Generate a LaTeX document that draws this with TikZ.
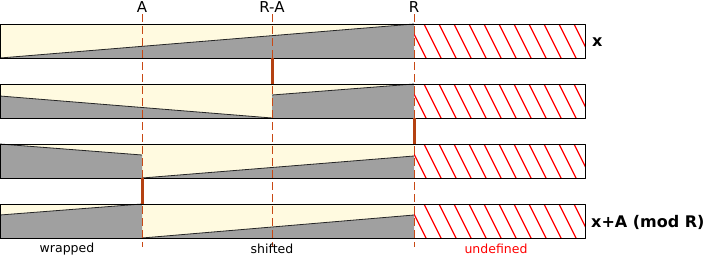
\documentclass[tikz,border=0pt]{standalone}
\usepackage{fontspec}
\setmainfont{DejaVu Sans}
\usetikzlibrary{calc}

\definecolor{buffer}{RGB}{255,250,224}
\definecolor{data}{RGB}{160,160,160}
\definecolor{guide}{RGB}{200,72,20}

\tikzset{
  bar/.style={draw=black, line width=1pt, minimum width=585pt, minimum height=34pt,
    inner sep=0pt, outer sep=0pt, anchor=north west},
  hatch/.style={red, line width=1.3pt},
  edge/.style={black!85, line width=0.8pt},
  guideline/.style={guide, line width=1pt, dash pattern=on 8pt off 4pt},
  jump/.style={guide!90!black, line width=3pt},
  collabel/.style={font=\fontsize{15}{17}\selectfont, inner sep=0pt},
  seclabel/.style={font=\fontsize{12.5}{14}\selectfont, inner sep=0pt},
  rowlabel/.style={font=\fontsize{16}{18}\selectfont\bfseries, inner sep=0pt, anchor=west}
}

\begin{document}
\begin{tikzpicture}[x=1pt, y=-1pt, line join=round]
  \useasboundingbox (0,0) rectangle (705,257);

  % columns
  \coordinate (A) at (142,0);
  \coordinate (RA) at (272,0);
  \coordinate (R) at (414,0);

  % background of each row, undefined part hatched
  \foreach \t in {24,84,144,204} {
    \fill[buffer] (0,\t) rectangle (414,\t+34);
    \begin{scope}
      \clip (414,\t) rectangle (585,\t+34);
      \foreach \k in {0,...,12}
        \draw[hatch] (409+15*\k,\t) -- ++(17,34);
    \end{scope}
  }

  % values: top of bar / x start / offset / x end / offset
  \foreach \t/\xa/\la/\xb/\lb in {24/0/34/414/0,
      84/0/12/272/34, 84/272/11/414/0,
      144/0/0/142/11, 144/142/34/414/12,
      204/0/11/142/0, 204/142/34/414/11} {
    \fill[data] (\xa,\t+\la) -- (\xb,\t+\lb) -- (\xb,\t+34) -- (\xa,\t+34) -- cycle;
    \draw[edge] (\xa,\t+\la) -- (\xb,\t+\lb);
  }

  % column labels and guides
  \node[collabel] (lA) at (142,7) {A};
  \node[collabel] (lRA) at (272,7) {R-A};
  \node[collabel] (lR) at (414,7) {R};
  \foreach \c in {A,RA,R}
    \draw[guideline] ($(\c)+(0,14)$) -- ($(\c)+(0,247)$);

  % bars
  \node[bar] (row1) at (0,24) {};
  \node[bar] (row2) at (0,84) {};
  \node[bar] (row3) at (0,144) {};
  \node[bar] (row4) at (0,204) {};

  % jumps between rows
  \draw[jump] (row1.south -| RA) -- (row2.north -| RA);
  \draw[jump] (row2.south -| R) -- (row3.north -| R);
  \draw[jump] (row3.south -| A) -- (row4.north -| A);

  % row labels
  \node[rowlabel] (lx) at (592,42) {x};
  \node[rowlabel] (lxa) at (591,222) {x+A (mod R)};

  % section labels
  \node[seclabel] (wrapped) at (67,249) {wrapped};
  \node[seclabel] (shifted) at (272,249) {shifted};
  \node[seclabel, text=red] (undef) at (496,249) {undefined};
\end{tikzpicture}
\end{document}
